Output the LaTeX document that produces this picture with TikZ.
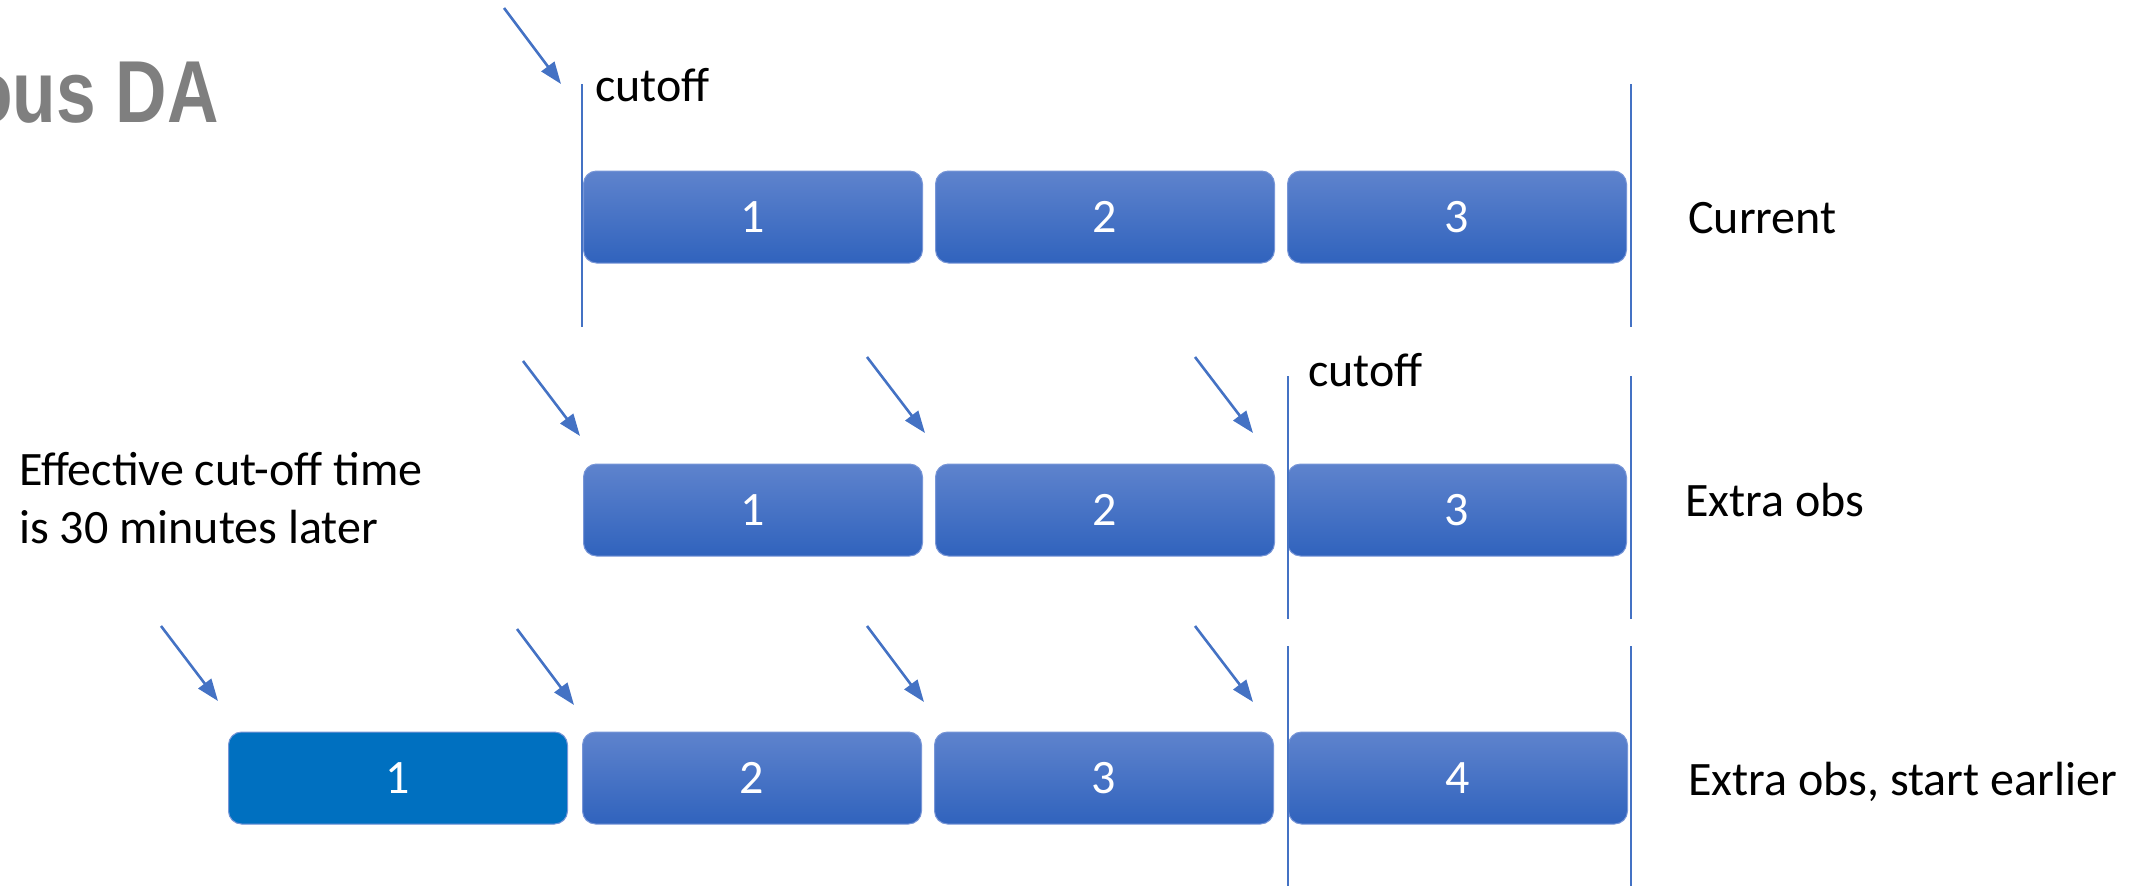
\documentclass[tikz,border=0pt]{standalone}
\usepackage{fontspec}
\usepackage{graphicx}
\setmainfont{Carlito}
\newfontfamily\titlefont{Liberation Sans}
\usetikzlibrary{arrows.meta}
\definecolor{lineblue}{RGB}{68,114,196}
\definecolor{boxtop}{RGB}{94,131,205}
\definecolor{boxbot}{RGB}{48,99,189}
\definecolor{boxedge}{RGB}{120,150,215}
\definecolor{solidblue}{RGB}{0,112,192}
\definecolor{titlegray}{RGB}{127,127,127}
\tikzset{
  slot/.style={rounded corners=13pt, minimum width=339pt, minimum height=92pt,
    inner sep=0pt, top color=boxtop, bottom color=boxbot, draw=boxedge, line width=1pt,
    text=white, font=\fontsize{48}{58}\selectfont},
  slotsolid/.style={slot, top color=solidblue, bottom color=solidblue, fill=solidblue},
  obsarrow/.style={draw=lineblue, line width=2.6pt, -{Triangle[length=22pt,width=16pt]}},
  cutline/.style={draw=lineblue, line width=2.2pt},
  lbl/.style={font=\fontsize{48}{58}\selectfont, inner sep=0pt, anchor=base west},
}
\begin{document}
\begin{tikzpicture}[x=1pt,y=-1pt]
\useasboundingbox (0,0) rectangle (2134,886);
% title
\node[anchor=base east, inner sep=0pt, text=titlegray] (title) at (219,122)
  {\scalebox{0.81}[1]{\titlefont\bfseries\fontsize{88}{100}\selectfont ous DA}};

% row 1
\node[slot] (b11) at (753,217) {1};
\node[slot] (b12) at (1105,217) {2};
\node[slot] (b13) at (1457,217) {3};
\coordinate (c1t) at (582,84);  \coordinate (c1b) at (582,327);
\coordinate (c1rt) at (1631,84); \coordinate (c1rb) at (1631,327);
\draw[cutline] (c1t) -- (c1b);
\draw[cutline] (c1rt) -- (c1rb);
\node[lbl] (cut1) at (595,101) {cutoff};
\node[lbl] (cur) at (1688,233) {Current};
\coordinate (a1s) at (504,8); \coordinate (a1e) at (561,84);
\draw[obsarrow] (a1s) -- (a1e);

% row 2
\node[slot] (b21) at (753,510) {1};
\node[slot] (b22) at (1105,510) {2};
\node[slot] (b23) at (1457,510) {3};
\coordinate (c2t) at (1288,376);  \coordinate (c2b) at (1288,619);
\coordinate (c2rt) at (1631,376); \coordinate (c2rb) at (1631,619);
\draw[cutline] (c2t) -- (c2b);
\draw[cutline] (c2rt) -- (c2rb);
\node[lbl] (cut2) at (1308,386) {cutoff};
\node[lbl] (extra) at (1685,516) {Extra obs};
\node[lbl, align=left, anchor=north west] (eff) at (19,452)
  {Effective cut-off time\\is 30 minutes later};
\coordinate (a21s) at (523,361);  \coordinate (a21e) at (580,436);
\coordinate (a22s) at (867,357);  \coordinate (a22e) at (925,433);
\coordinate (a23s) at (1195,357); \coordinate (a23e) at (1253,433);
\draw[obsarrow] (a21s) -- (a21e);
\draw[obsarrow] (a22s) -- (a22e);
\draw[obsarrow] (a23s) -- (a23e);

% row 3
\node[slotsolid] (b31) at (398,778) {1};
\node[slot] (b32) at (752,778) {2};
\node[slot] (b33) at (1104,778) {3};
\node[slot] (b34) at (1458,778) {4};
\coordinate (c3t) at (1288,646);  \coordinate (c3b) at (1288,890);
\coordinate (c3rt) at (1631,646); \coordinate (c3rb) at (1631,890);
\draw[cutline] (c3t) -- (c3b);
\draw[cutline] (c3rt) -- (c3rb);
\node[lbl] (extra2) at (1688,795) {Extra obs, start earlier};
\coordinate (a31s) at (161,626);  \coordinate (a31e) at (218,701);
\coordinate (a32s) at (517,629);  \coordinate (a32e) at (574,705);
\coordinate (a33s) at (867,626);  \coordinate (a33e) at (924,702);
\coordinate (a34s) at (1195,626); \coordinate (a34e) at (1253,702);
\draw[obsarrow] (a31s) -- (a31e);
\draw[obsarrow] (a32s) -- (a32e);
\draw[obsarrow] (a33s) -- (a33e);
\draw[obsarrow] (a34s) -- (a34e);
\end{tikzpicture}
\end{document}
